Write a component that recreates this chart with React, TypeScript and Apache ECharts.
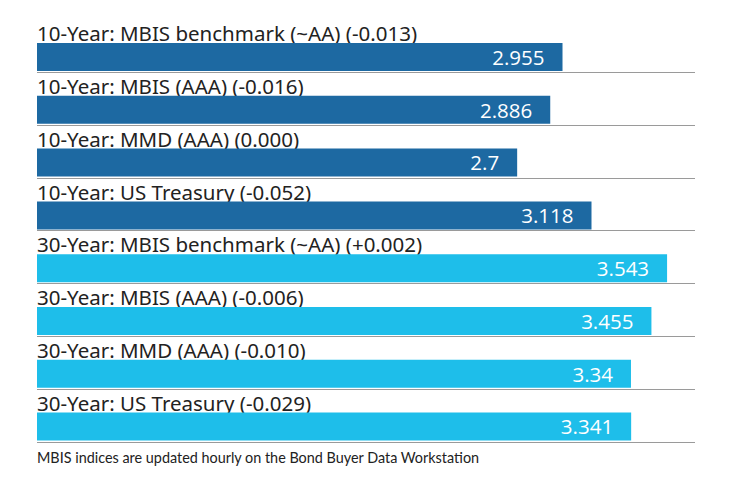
import React, { useEffect, useRef } from "react";
import * as echarts from "echarts";

const categories = [
  "10-Year: MBIS benchmark (~AA) (-0.013)",
  "10-Year: MBIS (AAA) (-0.016)",
  "10-Year: MMD (AAA) (0.000)",
  "10-Year: US Treasury (-0.052)",
  "30-Year: MBIS benchmark (~AA) (+0.002)",
  "30-Year: MBIS (AAA) (-0.006)",
  "30-Year: MMD (AAA) (-0.010)",
  "30-Year: US Treasury (-0.029)",
];
const values = [2.955, 2.886, 2.7, 3.118, 3.543, 3.455, 3.34, 3.341];
const valueLabels = ["2.955", "2.886", "2.7", "3.118", "3.543", "3.455", "3.34", "3.341"];
const groups = ["10", "10", "10", "10", "30", "30", "30", "30"];
const footnote = "MBIS indices are updated hourly on the Bond Buyer Data Workstation";

const groupColor: Record<string, string> = { "10": "#1d69a2", "30": "#1ebeea" };
const labelFont = '20.5px "Noto Sans"';
const valueFont = '20.5px "Open Sans"';

export default function App() {
  const ref = useRef<HTMLDivElement>(null);
  useEffect(() => {
    if (!ref.current) return;
    const chart = echarts.init(ref.current, null, { renderer: "svg" });
    const data = values.map((v, i) => [v, i]);
    chart.setOption({
      animation: false,
      grid: { left: 37, right: 45, top: 19.2, bottom: 48.4 },
      xAxis: { type: "value", min: 0, max: 3.7, show: false },
      yAxis: { type: "category", data: categories, inverse: true, show: false },
      graphic: [
        {
          type: "text",
          left: 37,
          top: 450,
          style: { text: footnote, font: '14.4px "Lato"', fill: "#222" },
        },
      ],
      series: [
        {
          type: "custom",
          encode: { x: 0, y: 1 },
          data,
          renderItem: (params: any, api: any) => {
            const idx = api.value(1);
            const v = api.value(0);
            const p0 = api.coord([0, idx]);
            const p1 = api.coord([v, idx]);
            const bh = api.size([0, 1])[1];
            const top = p0[1] - bh / 2;
            const right = params.coordSys.x + params.coordSys.width;
            const lineY = Math.round(top + bh) + 0.5;
            return {
              type: "group",
              children: [
                {
                  type: "text",
                  style: {
                    x: p0[0],
                    y: top + 14,
                    text: categories[idx],
                    font: labelFont,
                    fill: "#222",
                    align: "left",
                    verticalAlign: "middle",
                  },
                },
                {
                  type: "rect",
                  shape: { x: p0[0], y: top + 23.8, width: p1[0] - p0[0], height: 28 },
                  style: { fill: groupColor[groups[idx]] },
                },
                {
                  type: "text",
                  style: {
                    x: p1[0] - 18,
                    y: top + 37.5,
                    text: valueLabels[idx],
                    font: valueFont,
                    fill: "#ffffff",
                    align: "right",
                    verticalAlign: "middle",
                  },
                },
                {
                  type: "line",
                  shape: { x1: p0[0], y1: lineY, x2: right, y2: lineY },
                  style: { stroke: "#9a9a9a", lineWidth: 1 },
                },
              ],
            };
          },
        },
      ],
    });
    return () => chart.dispose();
  }, []);
  return (
    <div
      ref={ref}
      style={{ position: "fixed", left: 0, top: 0, width: 740, height: 490, background: "#fff" }}
    />
  );
}
